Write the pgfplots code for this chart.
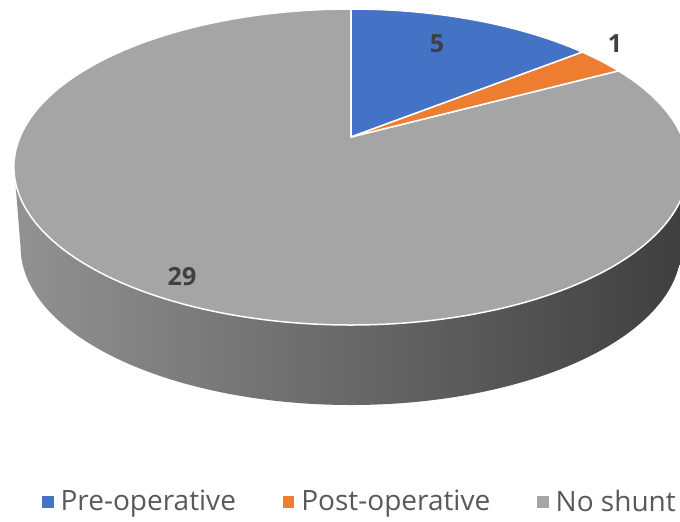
\documentclass[border=0pt]{standalone}
\usepackage{fontspec}
\setmainfont{Open Sans}
\usepackage{pgfplots}
\usepackage{pgfplotstable}
\pgfplotsset{compat=1.18}
\definecolor{pieblue}{HTML}{4472C4}
\definecolor{pieorange}{HTML}{ED7D31}
\definecolor{piegray}{HTML}{A5A5A5}
\definecolor{sideL}{HTML}{929292}
\definecolor{sideM}{HTML}{5E5E5E}
\definecolor{sideR}{HTML}{3E3E3E}
\definecolor{labc}{HTML}{404040}
\definecolor{legc}{HTML}{595959}
\pgfplotstableread{
label value
Pre-operative 5
Post-operative 1
No-shunt 29
}\piedata
\begin{document}
\begin{tikzpicture}
\pgfplotstablegetelem{0}{value}\of\piedata \let\va\pgfplotsretval
\pgfplotstablegetelem{1}{value}\of\piedata \let\vb\pgfplotsretval
\pgfplotstablegetelem{2}{value}\of\piedata \let\vc\pgfplotsretval
\pgfmathsetmacro\tot{\va+\vb+\vc}
\pgfmathsetmacro\aA{90}
\pgfmathsetmacro\aB{90-360*\va/\tot}
\pgfmathsetmacro\aC{\aB-360*\vb/\tot}
\pgfmathsetmacro\aD{\aC-360*\vc/\tot}
\useasboundingbox (0,0) rectangle (340pt,261pt);
\clip (0,0) rectangle (340pt,261pt);
\begin{axis}[
  scale only axis, width=340pt, height=261pt,
  xmin=0, xmax=680, ymin=0, ymax=522, y dir=reverse,
  hide axis, clip=true,
  legend columns=3,
  legend style={at={(axis cs:361,502)}, anchor=center, draw=none, fill=none,
    font=\fontsize{14}{16}\selectfont, text=legc,
    /tikz/every even column/.append style={column sep=21.5pt}},
  legend image code/.code={\fill[#1] (0pt,-2.6pt) rectangle (5.2pt,2.6pt);
    \path[draw=none,fill=none] (0pt,0pt) -- (7pt,0pt);},
]
% side of the cylinder
\addplot[draw=none, forget plot, left color=sideL, middle color=sideM, right color=sideR,
  domain=0:360, samples=361, variable=\t]
  ({351 + (sin(\t)<-0.19 ? 0.98 : 1)*331*cos(\t)/(1+0.19*sin(\t))},
   {137 - 152.3*sin(\t)/(1+0.19*sin(\t)) + (sin(\t)<-0.19 ? 80 : 0)}) -- cycle;
% top slices
\addplot[fill=piegray, draw=white, line width=0.75pt, forget plot,
  domain=\aD:\aC, samples=240, variable=\t]
  ({351+331*cos(\t)/(1+0.19*sin(\t))},{137-152.3*sin(\t)/(1+0.19*sin(\t))}) -- (axis cs:351,137) -- cycle;
\addplot[fill=pieblue, draw=white, line width=0.75pt, forget plot,
  domain=\aB:\aA, samples=60, variable=\t]
  ({351+331*cos(\t)/(1+0.19*sin(\t))},{137-152.3*sin(\t)/(1+0.19*sin(\t))}) -- (axis cs:351,137) -- cycle;
\addplot[fill=pieorange, draw=white, line width=0.75pt, forget plot,
  domain=\aC:\aB, samples=20, variable=\t]
  ({351+331*cos(\t)/(1+0.19*sin(\t))},{137-152.3*sin(\t)/(1+0.19*sin(\t))}) -- (axis cs:351,137) -- cycle;
% data labels
\node[font=\bfseries\fontsize{12.5}{14}\selectfont, text=labc] at (axis cs:437,44) {5};
\node[font=\bfseries\fontsize{12.5}{14}\selectfont, text=labc] at (axis cs:615,44) {1};
\node[font=\bfseries\fontsize{12.5}{14}\selectfont, text=labc] at (axis cs:182,277) {29};
% legend
\addlegendimage{pieblue}\addlegendentry{Pre-operative}
\addlegendimage{pieorange}\addlegendentry{Post-operative}
\addlegendimage{piegray}\addlegendentry{No shunt}
\end{axis}
\end{tikzpicture}
\end{document}
